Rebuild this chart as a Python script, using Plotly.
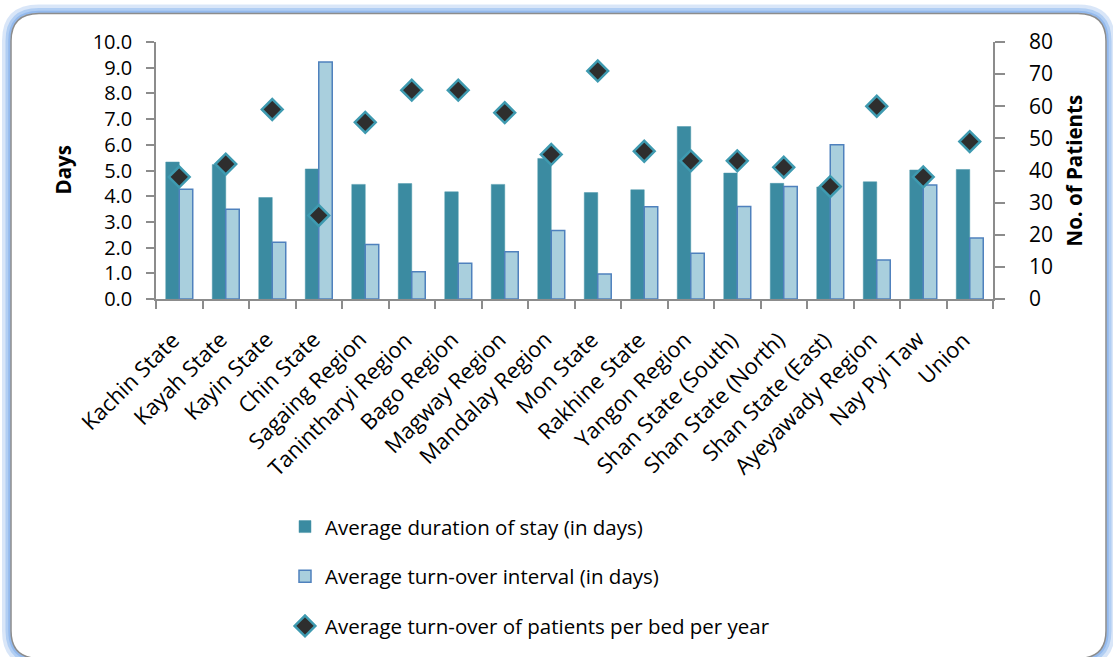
import plotly.graph_objects as go

categories = ["Kachin State", "Kayah State", "Kayin State", "Chin State", "Sagaing Region",
              "Tanintharyi Region", "Bago Region", "Magway Region", "Mandalay Region", "Mon State",
              "Rakhine State", "Yangon Region", "Shan State (South)", "Shan State (North)",
              "Shan State (East)", "Ayeyawady Region", "Nay Pyi Taw", "Union"]
avg_stay = [5.33, 5.23, 3.95, 5.06, 4.46, 4.49, 4.17, 4.46, 5.47, 4.14, 4.25, 6.71, 4.90, 4.50,
            4.36, 4.56, 5.02, 5.04]
turnover_interval = [4.27, 3.49, 2.21, 9.22, 2.12, 1.06, 1.39, 1.84, 2.67, 0.97, 3.59, 1.78, 3.60,
                     4.38, 6.00, 1.52, 4.44, 2.37]
turnover_patients = [38, 42, 59, 26, 55, 65, 65, 58, 45, 71, 46, 43, 43, 41, 35, 60, 38, 49]
left_ticks = [0, 1, 2, 3, 4, 5, 6, 7, 8, 9, 10]
right_ticks = [0, 10, 20, 30, 40, 50, 60, 70, 80]

FW, FH = 1113, 657
L, T, R, B = 156, 42, 993, 303
W, H = R - L, B - T
FONT = "Open Sans"


def px(x):
    return (x - L) / W


def py(y):
    return (B - y) / H


def rounded_rect(x0, y0, x1, y1, r):
    return (f"M {px(x0 + r)} {py(y0)} L {px(x1 - r)} {py(y0)} "
            f"Q {px(x1)} {py(y0)} {px(x1)} {py(y0 + r)} "
            f"L {px(x1)} {py(y1 - r)} Q {px(x1)} {py(y1)} {px(x1 - r)} {py(y1)} "
            f"L {px(x0 + r)} {py(y1)} Q {px(x0)} {py(y1)} {px(x0)} {py(y1 - r)} "
            f"L {px(x0)} {py(y0 + r)} Q {px(x0)} {py(y0)} {px(x0 + r)} {py(y0)} Z")


fig = go.Figure()
fig.add_trace(go.Bar(x=categories, y=avg_stay, name="Average duration of stay (in days)",
                     marker=dict(color="#3B8BA1", line=dict(color="#4A97AB", width=0.5)),
                     legendgroup="a"))
fig.add_trace(go.Bar(x=categories, y=turnover_interval, name="Average turn-over interval (in days)",
                     marker=dict(color="#A9CFDD", line=dict(color="#4F81BD", width=1.5)),
                     legendgroup="b"))
fig.add_trace(go.Scatter(x=categories, y=turnover_patients, yaxis="y2", mode="markers",
                         name="Average turn-over of patients per bed per year",
                         marker=dict(symbol="diamond", size=16, color="#2E2E2E",
                                     line=dict(color="#3E9AB0", width=2.5)),
                         legendgroup="c"))

shapes = []
# blue glow + grey frame
for off, w, col in [(5, 8, "rgba(170,200,240,0.45)"), (3, 5, "rgba(150,190,240,0.6)"),
                    (1.5, 2.5, "rgba(140,180,235,0.8)")]:
    shapes.append(dict(type="path", xref="paper", yref="paper", layer="below",
                       path=rounded_rect(11 - off, 13 - off, 1106 + off, 668 + off, 28 + off),
                       line=dict(color=col, width=w)))
shapes.append(dict(type="path", xref="paper", yref="paper", layer="below",
                   path=rounded_rect(11, 13, 1106, 668, 28),
                   line=dict(color="#8C8C8C", width=1.5), fillcolor="white"))

annotations = [
    dict(text="<b>Days</b>", x=px(62), y=py(172.5), xref="paper", yref="paper", textangle=-90,
         xanchor="center", yanchor="middle",
         showarrow=False, font=dict(family=FONT, size=20.5, color="black")),
    dict(text="<b>No. of Patients</b>", x=px(1073), y=py(172.5), xref="paper", yref="paper",
         xanchor="center", yanchor="middle",
         textangle=-90, showarrow=False, font=dict(family=FONT, size=20.5, color="black")),
]
# rotated category labels, anchored by their top-right corner under each category
for i, cat in enumerate(categories):
    annotations.append(dict(text=cat, x=i, xref="x", y=py(326), yref="paper",
                            xanchor="right", yanchor="top", xshift=9, textangle=-45,
                            showarrow=False, font=dict(family=FONT, size=22, color="black")))

fig.update_layout(
    width=FW, height=FH,
    margin=dict(l=L, r=FW - R, t=T, b=FH - B),
    paper_bgcolor="white", plot_bgcolor="rgba(0,0,0,0)",
    barmode="group", bargap=0.42, bargroupgap=0,
    font=dict(family=FONT, size=20, color="black"),
    xaxis=dict(type="category", categoryorder="array", categoryarray=categories,
               range=[-0.5, len(categories) - 0.5], autorange=False,
               showline=True, linecolor="#8C8C8C", linewidth=1.5, ticks="outside",
               tickson="boundaries", ticklen=8, tickcolor="#8C8C8C", tickwidth=1.5,
               showticklabels=False, showgrid=False),
    yaxis=dict(range=[0, 10], tickvals=left_ticks, tickformat=".1f", showline=True,
               linecolor="#8C8C8C", linewidth=1.5, ticks="outside", ticklen=8,
               tickcolor="#8C8C8C", tickwidth=1.5, showgrid=False, zeroline=False,
               ticklabelstandoff=10, tickfont=dict(family=FONT, size=20, color="black")),
    yaxis2=dict(range=[0, 80], tickvals=right_ticks, overlaying="y", side="right",
                showline=True, linecolor="#8C8C8C", linewidth=1.5, ticks="outside",
                ticklen=10, tickcolor="#8C8C8C", tickwidth=1.5, showgrid=False,
                zeroline=False, ticklabelstandoff=20,
                tickfont=dict(family=FONT, size=21, color="black")),
    legend=dict(x=px(285), y=py(514), xanchor="left", yanchor="top", orientation="v",
                traceorder="grouped", tracegroupgap=20, bgcolor="rgba(0,0,0,0)",
                font=dict(family=FONT, size=20.5, color="black")),
    shapes=shapes, annotations=annotations,
)

fig.write_html("out.html", post_script="document.body.style.margin='0';",
               config={"displayModeBar": False})
